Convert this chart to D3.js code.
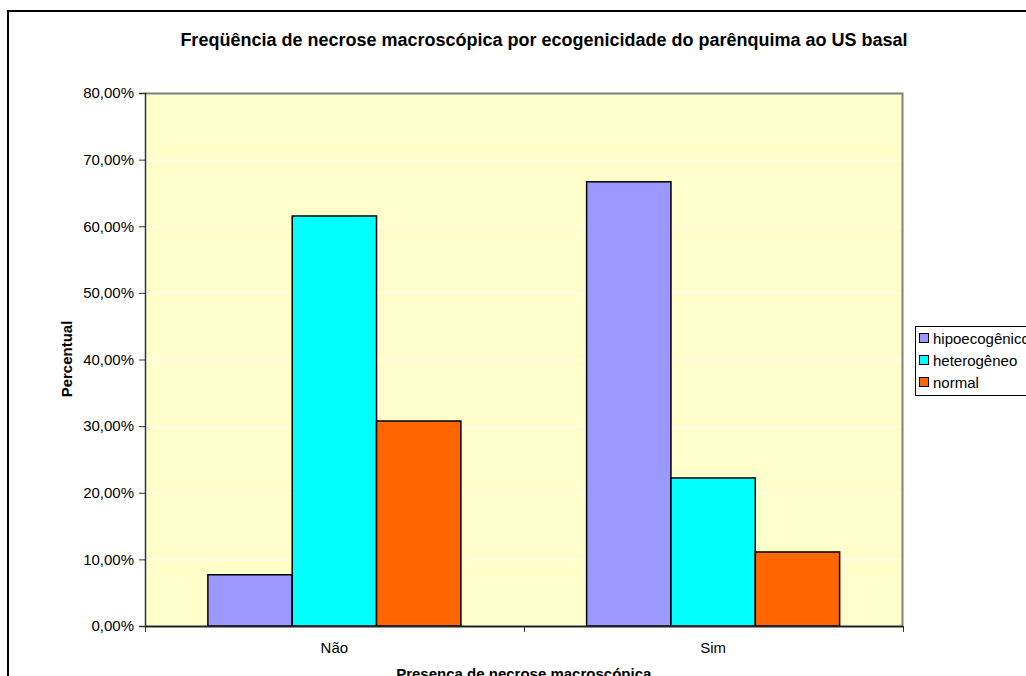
<!DOCTYPE html>
<html><head><meta charset="utf-8">
<script src="https://cdn.jsdelivr.net/npm/d3@7"></script>
<style>
body{margin:0;background:#fff;}
text{font-family:Arial,"Liberation Sans",sans-serif;}
</style></head>
<body>
<svg id="c" width="1026" height="676"></svg>
<script>
const categories = ["Não", "Sim"];
const seriesNames = ["hipoecogênico", "heterogêneo", "normal"];
const hipoecogenico = [7.69, 66.67];
const heterogeneo = [61.54, 22.22];
const normal = [30.77, 11.11];
const seriesColors = ["#9999FF", "#00FFFF", "#FF6600"];
const yTicks = [0, 10, 20, 30, 40, 50, 60, 70, 80];
const title = "Freqüência de necrose macroscópica por ecogenicidade do parênquima ao US basal";
const xTitle = "Presença de necrose macroscópica";
const yTitle = "Percentual";

const series = [hipoecogenico, heterogeneo, normal];
const svg = d3.select("#c");
const L = 145, R = 902.5, T = 93, B = 626;
const FS = 15;

// outer border
svg.append("rect").attr("x", 8).attr("y", 11).attr("width", 1040).attr("height", 700)
  .attr("fill", "#fff").attr("stroke", "#000").attr("stroke-width", 2);

const x = d3.scaleBand().domain(categories).range([L, R]).paddingInner(0).paddingOuter(0);
const y = d3.scaleLinear().domain([0, 80]).range([B, T]);

// plot background
svg.append("rect").attr("x", L).attr("y", T).attr("width", R - L).attr("height", B - T)
  .attr("fill", "#FFFFCC");

// gridlines
svg.append("g").selectAll("line").data(yTicks.slice(1, -1)).join("line")
  .attr("x1", L).attr("x2", R).attr("y1", d => y(d) + 0.5).attr("y2", d => y(d) + 0.5)
  .attr("stroke", "#FFFFFF").attr("stroke-width", 1);

// plot border top/right
svg.append("path").attr("d", `M${L},${T + 0.5}H${R}V${B}`).attr("fill", "none")
  .attr("stroke", "#808080").attr("stroke-width", 2);

// bars
const bw = x.bandwidth();
const groupW = bw * 0.668;
const xs = d3.scaleBand().domain(d3.range(series.length)).range([0, groupW]).padding(0);
categories.forEach((c, ci) => {
  const g = svg.append("g").attr("transform", `translate(${x(c) + (bw - groupW) / 2},0)`);
  series.forEach((s, si) => {
    g.append("rect").attr("x", xs(si)).attr("y", y(s[ci])).attr("width", xs.bandwidth())
      .attr("height", y(0) - y(s[ci])).attr("fill", seriesColors[si])
      .attr("stroke", "#000").attr("stroke-width", 1.5);
  });
});

// y axis
const yAxis = d3.axisLeft(y).tickValues(yTicks).tickSize(6).tickPadding(5)
  .tickFormat(d => d3.format(".2f")(d).replace(".", ",") + "%");
const ya = svg.append("g").attr("transform", `translate(${L},0)`).call(yAxis);
ya.select(".domain").attr("stroke", "#333").attr("stroke-width", 1.5);
ya.selectAll(".tick line").attr("stroke", "#333");
ya.selectAll("text").attr("font-size", FS).attr("fill", "#000").attr("font-family", "Arial, 'Liberation Sans', sans-serif");

// x axis
const xa = svg.append("g").attr("transform", `translate(0,${B})`)
  .call(d3.axisBottom(x).tickSize(0).tickPadding(16));
xa.select(".domain").attr("stroke", "#222").attr("stroke-width", 2);
xa.selectAll("text").attr("font-size", FS).attr("fill", "#000").attr("font-family", "Arial, 'Liberation Sans', sans-serif");
// category boundary ticks
svg.append("g").selectAll("line").data([...categories.map(c => x(c)), R]).join("line")
  .attr("x1", d => Math.round(d) + 0.5).attr("x2", d => Math.round(d) + 0.5)
  .attr("y1", B).attr("y2", B + 6).attr("stroke", "#333");

// titles
svg.append("text").attr("x", 544).attr("y", 46).attr("text-anchor", "middle")
  .attr("font-size", 18).attr("font-weight", "bold").text(title);
svg.append("text").attr("x", (L + R) / 2).attr("y", 679).attr("text-anchor", "middle")
  .attr("font-size", FS).attr("font-weight", "bold").text(xTitle);
svg.append("text").attr("transform", `translate(72,359) rotate(-90)`).attr("text-anchor", "middle")
  .attr("font-size", FS).attr("font-weight", "bold").text(yTitle);

// legend
const lg = svg.append("g");
lg.append("rect").attr("x", 915.5).attr("y", 326.5).attr("width", 130).attr("height", 69)
  .attr("fill", "#fff").attr("stroke", "#000").attr("stroke-width", 1);
seriesNames.forEach((n, i) => {
  const cy = 338 + i * 22;
  lg.append("rect").attr("x", 919.5).attr("y", cy - 4.5).attr("width", 9).attr("height", 9)
    .attr("fill", seriesColors[i]).attr("stroke", "#000").attr("stroke-width", 1);
  lg.append("text").attr("x", 933).attr("y", cy + 5.5).attr("font-size", FS).text(n);
});
</script>
</body></html>
